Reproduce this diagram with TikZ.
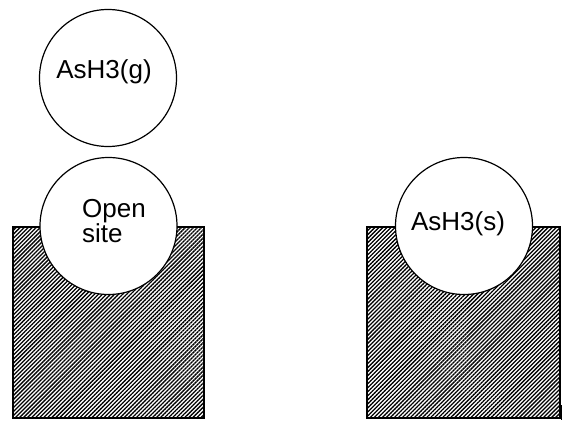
\documentclass[tikz,border=0pt]{standalone}
\usepackage{fontspec}
\setmainfont{Liberation Sans}
\usetikzlibrary{patterns.meta}
\begin{document}
\begin{tikzpicture}[x=1pt,y=-1pt,
  block/.style={draw=black,line width=1.4pt,
    pattern={Lines[angle=45,distance=2.85pt,line width=1.3pt]},pattern color=black},
  ball/.style={circle,draw=black,fill=white,line width=1.2pt,minimum size=137pt,inner sep=0pt},
  lbl/.style={font=\fontsize{26}{25}\selectfont,inner sep=0pt}]
\useasboundingbox (0,0) rectangle (572,425);
\path[block] (13,227) rectangle (204,418);
\path[block] (367,227) rectangle (560,418);
\draw[line width=1pt] (561.5,405) -- (561.5,420);
\node[ball] (gas) at (108,78) {};
\node[ball] (open) at (108.5,226) {};
\node[ball] (ads) at (464,226) {};
\node[lbl,anchor=base] (gaslbl) at (104,79) {AsH3(g)};
\node[lbl,anchor=base west,align=left] (openlbl1) at (82,217) {Open};
\node[lbl,anchor=base west] (openlbl2) at (82,242) {site};
\node[lbl,anchor=base] (adslbl) at (458,230) {AsH3(s)};
\end{tikzpicture}
\end{document}
